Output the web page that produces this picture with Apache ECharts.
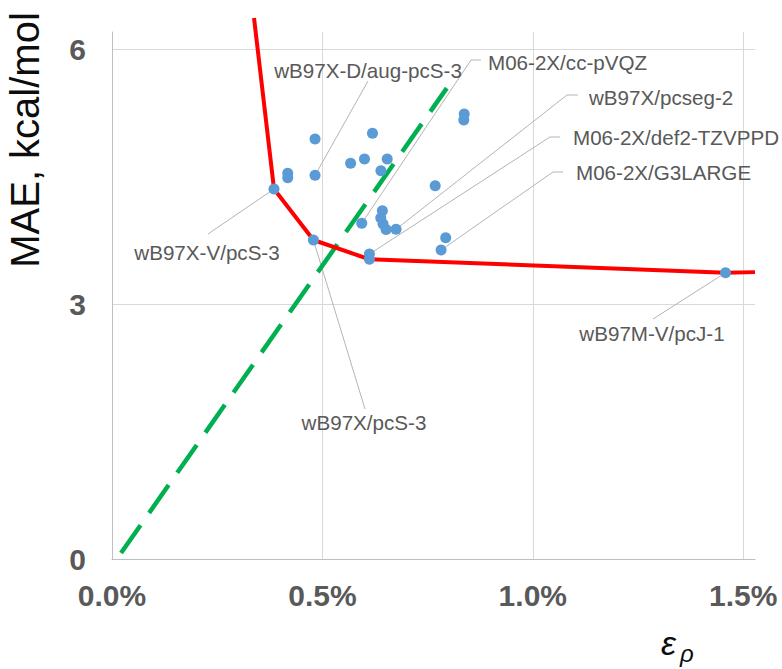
<!DOCTYPE html>
<html>
<head>
<meta charset="utf-8">
<script src="https://cdn.jsdelivr.net/npm/echarts@6/dist/echarts.min.js"></script>
<style>html,body{margin:0;padding:0;background:#fff}#c{width:782px;height:669px}</style>
</head>
<body>
<div id="c"></div>
<script>
// ---- data (x in %, y in kcal/mol) ----
const epsRho = [0.4825, 0.619, 0.837, 0.836, 0.567, 0.600, 0.654, 0.639, 0.4176, 0.4176,
                0.4825, 0.385, 0.768, 0.6425, 0.6387, 0.6442, 0.6513, 0.675, 0.5935, 0.4786,
                0.6117, 0.6117, 0.793, 0.782, 1.458];
const mae    = [4.94, 5.01, 5.235, 5.165, 4.655, 4.706, 4.706, 4.568, 4.537, 4.486,
                4.514, 4.353, 4.392, 4.098, 4.012, 3.941, 3.876, 3.879, 3.949, 3.753,
                3.588, 3.526, 3.78, 3.635, 3.368];
const paretoX = [0.3375, 0.385, 0.4786, 0.6117, 1.458, 1.528];
const paretoY = [6.365, 4.353, 3.753, 3.526, 3.368, 3.375];
const trendX = [0.0214, 0.7956];
const trendY = [0.07, 5.54];
const labelNames = ['wB97X-D/aug-pcS-3', 'wB97X-V/pcS-3', 'wB97X/pcS-3', 'M06-2X/cc-pVQZ',
                    'wB97X/pcseg-2', 'M06-2X/def2-TZVPPD', 'M06-2X/G3LARGE', 'wB97M-V/pcJ-1'];
const labelPoint = [10, 11, 19, 18, 17, 20, 23, 24];
const yTitle = 'MAE, kcal/mol';

// ---- label layout (pixels; style only) ----
const labelLayout = [
  {path: [[368, 81]], at: [368, 70], align: 'center'},
  {path: [[208, 234]], at: [207, 252], align: 'center'},
  {path: [[365, 409]], at: [364, 422], align: 'center'},
  {path: [[471, 60], [481, 60]], at: [488, 62], align: 'left'},
  {path: [[567, 95], [578, 95]], at: [589, 97], align: 'left'},
  {path: [[550, 137], [560, 137]], at: [573, 137], align: 'left'},
  {path: [[553, 172], [563, 172]], at: [576, 172], align: 'left'},
  {path: [[653, 319]], at: [652, 333], align: 'center'}
];

const FONT = '"Liberation Sans", Arial, sans-serif';
const chart = echarts.init(document.getElementById('c'), null, {renderer: 'svg'});

chart.setOption({
  animation: false,
  backgroundColor: '#fff',
  grid: {left: 112, right: 27, top: 32, bottom: 110, containLabel: false},
  xAxis: {
    type: 'value', min: 0, max: 1.528, interval: 0.5,
    axisLine: {show: true, lineStyle: {color: '#BFBFBF', width: 1}},
    axisTick: {show: false},
    axisLabel: {
      margin: 21, showMaxLabel: false,
      color: '#595959', fontSize: 30, fontWeight: 'bold', fontFamily: FONT,
      formatter: v => v.toFixed(1) + '%'
    },
    splitLine: {show: true, showMaxLine: false, lineStyle: {color: '#D9D9D9', width: 1}}
  },
  yAxis: {
    type: 'value', min: 0, max: 6.2, interval: 3,
    axisLine: {show: true, lineStyle: {color: '#BFBFBF', width: 1}},
    axisTick: {show: false},
    axisLabel: {
      margin: 26, showMaxLabel: false,
      color: '#595959', fontSize: 30, fontWeight: 'bold', fontFamily: FONT
    },
    splitLine: {show: true, showMaxLine: false, lineStyle: {color: '#D9D9D9', width: 1}}
  },
  series: [
    {
      type: 'line', name: 'trend', silent: true, showSymbol: false, symbol: 'none', z: 3,
      data: trendX.map((x, i) => [x, trendY[i]]),
      lineStyle: {color: '#00B050', width: 4.5, type: [34, 15], cap: 'butt'}
    },
    {
      type: 'line', name: 'pareto', silent: true, symbol: 'none', clip: false, z: 4,
      data: paretoX.map((x, i) => [x, paretoY[i]]),
      lineStyle: {color: '#FF0000', width: 4}
    },
    {
      type: 'scatter', name: 'methods', z: 5, symbolSize: 11,
      data: epsRho.map((x, i) => [x, mae[i]]),
      itemStyle: {color: '#5B9BD5', opacity: 1}
    }
  ]
});

const graphics = [];
labelNames.forEach((name, k) => {
  const idx = labelPoint[k];
  const p = chart.convertToPixel({xAxisIndex: 0, yAxisIndex: 0}, [epsRho[idx], mae[idx]]);
  const L = labelLayout[k];
  graphics.push({
    type: 'polyline', z: 1, silent: true,
    shape: {points: [p].concat(L.path)},
    style: {stroke: '#B4B4B4', lineWidth: 1, fill: null}
  });
  graphics.push({
    type: 'text', z: 10, x: L.at[0], y: L.at[1],
    style: {text: name, fill: '#595959', font: '20.6px ' + FONT,
            align: L.align, verticalAlign: 'middle', textAlign: L.align, textVerticalAlign: 'middle'}
  });
});
graphics.push({
  type: 'text', z: 10, x: 25, y: 140, rotation: Math.PI / 2,
  style: {text: yTitle, fill: '#0D0D0D', font: '40px ' + FONT,
          align: 'center', verticalAlign: 'middle', textAlign: 'center', textVerticalAlign: 'middle'}
});
graphics.push({
  type: 'text', z: 10, x: 661, y: 643,
  style: {text: 'ε', fill: '#0D0D0D', font: 'italic 34px ' + FONT,
          align: 'left', verticalAlign: 'middle', textAlign: 'left', textVerticalAlign: 'middle'}
});
graphics.push({
  type: 'text', z: 10, x: 680, y: 653,
  style: {text: 'ρ', fill: '#0D0D0D', font: 'italic 24px ' + FONT,
          align: 'left', verticalAlign: 'middle', textAlign: 'left', textVerticalAlign: 'middle'}
});
chart.setOption({graphic: graphics});
</script>
</body>
</html>
